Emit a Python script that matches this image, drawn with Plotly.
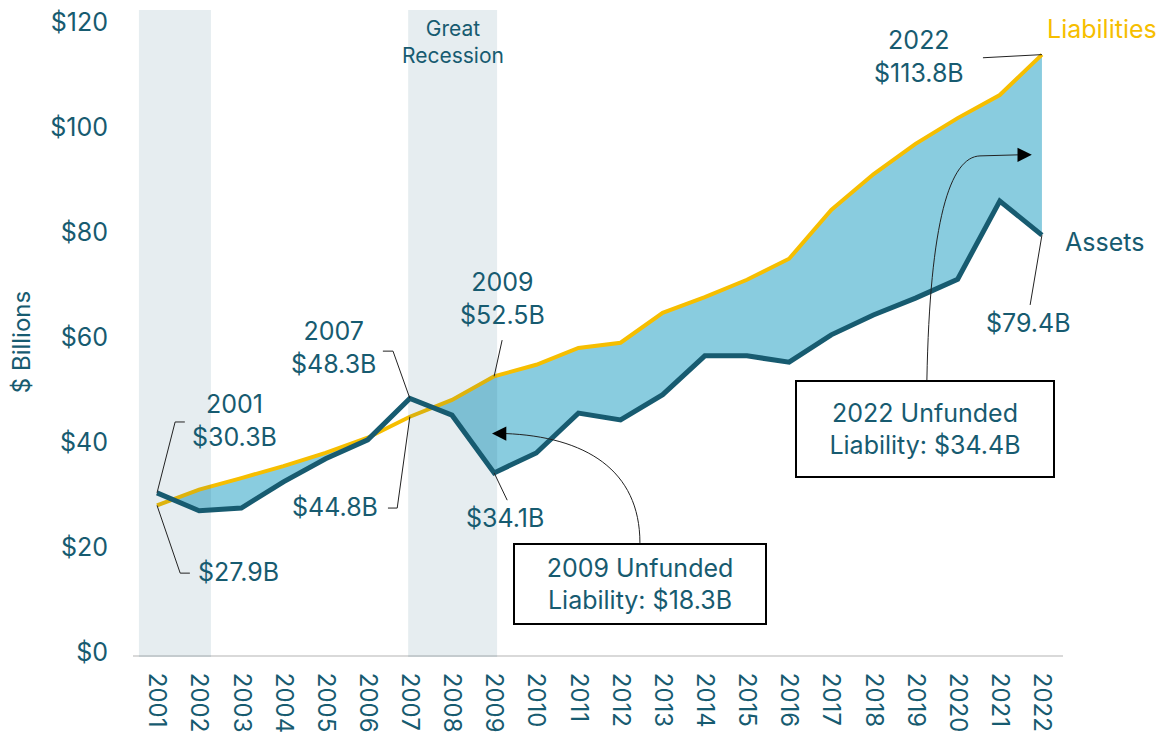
import numpy as np
import plotly.graph_objects as go

# ---------------- data ----------------
years = list(range(2001, 2023))
liabilities = [27.9, 30.9, 33.1, 35.4, 37.9, 40.8, 44.8, 48.0, 52.5, 54.7, 57.9,
               58.9, 64.6, 67.6, 70.9, 74.9, 84.2, 91.0, 96.8, 101.7, 106.1, 113.8]
assets = [30.3, 26.9, 27.4, 32.4, 36.8, 40.4, 48.3, 45.1, 34.1, 37.9, 45.5,
          44.2, 49.0, 56.4, 56.4, 55.2, 60.4, 64.2, 67.4, 71.0, 85.9, 79.4]
y_ticks = [0, 20, 40, 60, 80, 100, 120]
y_tick_labels = ["$0", "$20", "$40", "$60", "$80", "$100", "$120"]
recessions = [(2000.57, 2002.28), (2006.96, 2009.07)]

TEAL = "#175B70"
GOLD = "#F6BE00"
FILL = "#89CCDF"
FONT = "Inter"

# ------------- unfunded-liability fill polygons (where L > A) -------------
x = np.array(years, float)
L = np.array(liabilities, float)
A = np.array(assets, float)
d = L - A
polys = []
up, lo = [], []
for i in range(len(x)):
    if d[i] > 0:
        up.append((x[i], L[i]))
        lo.append((x[i], A[i]))
    if i < len(x) - 1 and (d[i] > 0) != (d[i + 1] > 0):
        t = d[i] / (d[i] - d[i + 1])
        xc = x[i] + t * (x[i + 1] - x[i])
        yc = L[i] + t * (L[i + 1] - L[i])
        up.append((xc, yc))
        lo.append((xc, yc))
        if d[i] > 0:
            polys.append(up + lo[::-1])
            up, lo = [], []
if up:
    polys.append(up + lo[::-1])

fig = go.Figure()
for p in polys:
    fig.add_trace(go.Scatter(
        x=[q[0] for q in p], y=[q[1] for q in p], mode="lines",
        fill="toself", fillcolor=FILL, line=dict(width=0),
        hoverinfo="skip", showlegend=False))

fig.add_trace(go.Scatter(x=years, y=liabilities, mode="lines", name="Liabilities",
                         line=dict(color=GOLD, width=4), showlegend=False))
fig.add_trace(go.Scatter(x=years, y=assets, mode="lines", name="Assets",
                         line=dict(color=TEAL, width=5), showlegend=False))

shapes = []
for x0, x1 in recessions:
    shapes.append(dict(type="rect", xref="x", yref="paper", x0=x0, x1=x1,
                       y0=-0.003, y1=1, fillcolor="rgba(23,92,114,0.11)",
                       line=dict(width=0), layer="above"))

LEAD = dict(color="#222222", width=1)


def path(pts):
    return "M " + " L ".join(f"{a},{b}" for a, b in pts)


# leader lines
shapes += [
    dict(type="path", xref="x", yref="y", line=LEAD,
         path=path([(years[0], assets[0]), (2001.43, 43.8), (2001.66, 43.8)])),
    dict(type="path", xref="x", yref="y", line=LEAD,
         path=path([(years[0], liabilities[0]), (2001.55, 15.0), (2001.78, 15.0)])),
    dict(type="path", xref="x", yref="y", line=LEAD,
         path=path([(2006.36, 57.3), (2006.6, 57.3), (years[6], assets[6])])),
    dict(type="path", xref="x", yref="y", line=LEAD,
         path=path([(2006.48, 27.4), (2006.70, 27.4), (years[6], liabilities[6])])),
    dict(type="path", xref="x", yref="y", line=LEAD,
         path=path([(years[8], liabilities[8]), (2009.19, 59.4)])),
    dict(type="path", xref="x", yref="y", line=LEAD,
         path=path([(years[8], assets[8]), (2009.31, 28.9)])),
    dict(type="path", xref="x", yref="y", line=LEAD,
         path=path([(2020.6, 113.2), (years[-1], liabilities[-1])])),
    dict(type="path", xref="x", yref="y", line=LEAD,
         path=path([(years[-1], assets[-1]), (2021.72, 66.1)])),
    # curved arrows
    dict(type="path", xref="x", yref="y", line=LEAD,
         path="M 2012.46,20.75 C 2012.46,34.7 2011.16,41.0 2009.26,41.6"),
    dict(type="path", xref="x", yref="y", line=LEAD,
         path="M 2019.27,51.8 C 2019.34,82.3 2019.82,94.3 2020.53,94.5 L 2021.43,94.7"),
]

ann = []


def label(text, xx, yy, xanchor="center", color=TEAL, size=25):
    ann.append(dict(text=text, x=xx, y=yy, xref="x", yref="y", showarrow=False,
                    xanchor=xanchor, yanchor="middle",
                    font=dict(family=FONT, size=size, color=color)))


label("2001<br>$30.3B", 2002.85, 44.0)
label("$27.9B", 2001.93, 15.2, xanchor="left")
label("2007<br>$48.3B", 2005.18, 57.9)
label("$44.8B", 2006.29, 27.6, xanchor="right")
label("2009<br>$52.5B", 2009.19, 67.4)
label("$34.1B", 2009.26, 25.5)
label("2022<br>$113.8B", 2019.08, 113.4)
label("Liabilities", 2022.07, 118.7, xanchor="left", color=GOLD)
label("Assets", 2022.5, 78.1, xanchor="left")
label("$79.4B", 2021.67, 62.7)
label("Great<br>Recession", 2008.02, 116.2, size=21)

for text, xx, yy, w, h in [
    ("2009 Unfunded<br>Liability: $18.3B", 2012.46, 12.9, 244, 72),
    ("2022 Unfunded<br>Liability: $34.4B", 2019.22, 42.5, 250, 88),
]:
    ann.append(dict(text=text, x=xx, y=yy, xref="x", yref="y", showarrow=False,
                    xanchor="center", yanchor="middle", width=w, height=h,
                    bgcolor="white", bordercolor="black", borderwidth=2, borderpad=3,
                    font=dict(family=FONT, size=25, color=TEAL)))

# arrowheads
for tipx, tipy, axo in [(2008.95, 41.6, 14), (2021.76, 94.7, -14)]:
    ann.append(dict(text="", x=tipx, y=tipy, xref="x", yref="y", showarrow=True,
                    ax=axo, ay=0, arrowhead=2, arrowsize=2.2, arrowwidth=1.3,
                    arrowcolor="black"))

# y-axis title
ann.append(dict(text="$ Billions", x=-0.1204, y=0.485, xref="paper", yref="paper",
                showarrow=False, textangle=-90, xanchor="center", yanchor="middle",
                font=dict(family=FONT, size=24, color=TEAL)))

fig.update_layout(
    width=1167, height=735,
    margin=dict(l=133, r=104, t=10, b=80, autoexpand=False),
    plot_bgcolor="white", paper_bgcolor="white",
    shapes=shapes, annotations=ann,
    xaxis=dict(range=[2000.43, 2022.5], tickmode="array", tickvals=years,
               ticktext=[str(y) for y in years], tickangle=90,
               tickfont=dict(family=FONT, size=24, color=TEAL),
               showgrid=False, zeroline=False, showline=True,
               linecolor="#D9D9D9", linewidth=2, ticks="",
               ticklabelstandoff=11, automargin=False),
    yaxis=dict(range=[-0.6, 122.3], tickmode="array", tickvals=y_ticks,
               ticktext=y_tick_labels,
               tickfont=dict(family=FONT, size=25, color=TEAL),
               showgrid=False, zeroline=False, showline=False, ticks="",
               ticklabelstandoff=24, automargin=False),
)

fig.write_html("out.html", config={"displayModeBar": False},
               post_script="document.body.style.margin='0';"
                           "document.body.style.overflow='hidden';")
